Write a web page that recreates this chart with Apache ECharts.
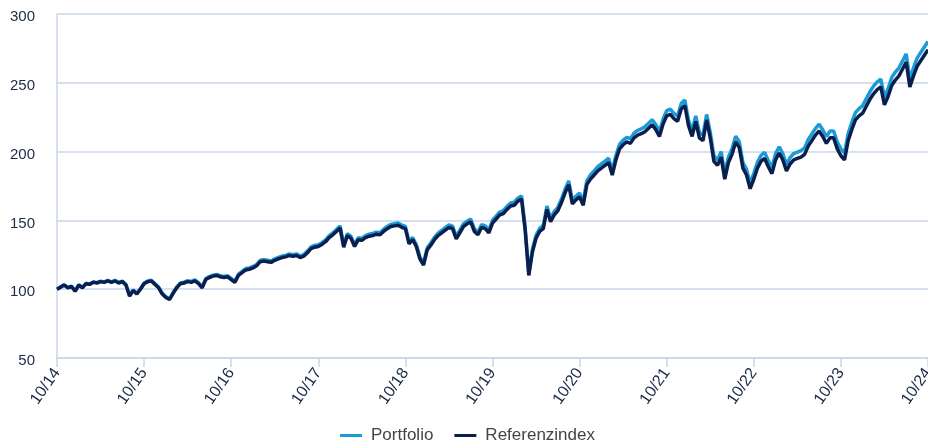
<!DOCTYPE html>
<html>
<head>
<meta charset="utf-8">
<script src="https://cdn.jsdelivr.net/npm/echarts@6/dist/echarts.min.js"></script>
<style>
  html, body { margin: 0; padding: 0; background: #fff; }
  #chart { width: 928px; height: 440px; }
</style>
</head>
<body>
<div id="chart"></div>
<script>
// values, one point every half month from 10/2014 to 10/2024
const portfolio = [
  100, 101.6, 103.2, 101.2, 102.2, 98.7, 103.3, 101.3, 104.3, 103.8, 105.3, 104.8, 105.8, 105.3, 106.4, 105.4, 106.4, 104.9, 105.9, 103.4, 95.4, 99.4, 97, 100.5,
  104.5, 106, 106.5, 104, 101.5, 97, 94.5, 93, 97.6, 101.6, 104.6, 105.1, 106.2, 105.7, 106.7, 104.7, 101.7, 107.7, 109.2, 110.2, 110.8, 109.8, 109.3, 109.8,
  107.8, 105.8, 110.9, 112.9, 115, 115.5, 116.5, 118, 121, 121.5, 121, 120.5, 122.1, 123.1, 124.1, 124.6, 125.6, 125.1, 125.7, 124.2, 125.2, 127.7, 130.8, 131.8,
  132.3, 133.8, 135.9, 138.9, 140.9, 143.4, 146, 132, 140.4, 138.4, 132.4, 137.4, 137, 139, 140, 140.5, 141.5, 141, 143.6, 145.6, 147.1, 147.6, 148.1, 146.6,
  145.6, 134.5, 137.6, 132.5, 123.5, 119, 130.1, 133.6, 137.7, 140.7, 142.8, 144.8, 146.8, 145.8, 138.3, 142.9, 147.4, 149.4, 151, 143.9, 141.4, 147, 146, 143,
  150.1, 153.1, 156.1, 157.2, 160.2, 162.7, 163.2, 166.3, 167.8, 145, 111.5, 129, 139.2, 144.2, 146.3, 160.4, 151.4, 156.4, 159.5, 165.5, 172.6, 178.7, 164.6, 167.7,
  169.8, 163.8, 178.9, 183, 186, 189.1, 191.1, 193.1, 195.2, 186.1, 197.2, 205.3, 208.3, 210.4, 209.4, 213.4, 215.5, 216.5, 218, 220.6, 223.1, 219.6, 214.5, 223.6,
  229.7, 230.8, 227.8, 225.8, 234.9, 237.5, 223, 215, 226, 214, 212, 227, 214, 197, 194, 200, 184, 196, 202.1, 211.2, 207.2, 192.1, 187.1, 177.1,
  184.2, 192.3, 197.3, 199.4, 193.4, 188.4, 198.5, 203.5, 198.5, 190.5, 195.6, 198.6, 199.6, 200.7, 202.7, 208.8, 212.9, 216.9, 219.9, 215.9, 210.9, 215, 215, 206.9,
  202, 199, 213.1, 221.2, 228.3, 231.3, 233.4, 238.5, 243.5, 247.6, 250.7, 252.7, 239.6, 245.7, 253.8, 257.8, 260.9, 266, 271, 252.6, 260.8, 267.9, 272, 276, 280
]

const referenzindex = [
  100, 101.5, 103, 101, 102, 98.5, 103, 101, 104, 103.5, 105, 104.5, 105.5, 105, 106, 105, 106, 104.5, 105.5, 103, 95, 99, 96.5, 100,
  104, 105.5, 106, 103.5, 101, 96.5, 94, 92.5, 97, 101, 104, 104.5, 105.5, 105, 106, 104, 101, 107, 108.5, 109.5, 110, 109, 108.5, 109,
  107, 105, 110, 112, 114, 114.5, 115.5, 117, 120, 120.5, 120, 119.5, 121, 122, 123, 123.5, 124.5, 124, 124.5, 123, 124, 126.5, 129.5, 130.5,
  131, 132.5, 134.5, 137.5, 139.5, 142, 144.5, 130.5, 139, 137, 131, 136, 135.5, 137.5, 138.5, 139, 140, 139.5, 142, 144, 145.5, 146, 146.5, 145,
  144, 133, 136, 131, 122, 117.5, 128.5, 132, 136, 139, 141, 143, 145, 144, 136.5, 141, 145.5, 147.5, 149, 142, 139.5, 145, 144, 141,
  148, 151, 154, 155, 158, 160.5, 161, 164, 165.5, 143, 110, 127, 137, 142, 144, 158, 149, 154, 157, 163, 170, 176, 162, 165,
  167, 161, 176, 180, 183, 186, 188, 190, 192, 183, 194, 202, 205, 207, 206, 210, 212, 213, 214.5, 217, 219.5, 216, 211, 220,
  226, 227, 224, 222, 231, 233.5, 219, 211, 222, 210, 208, 223, 210, 193, 190, 196, 180, 192, 198, 207, 203, 188, 183, 173,
  180, 188, 193, 195, 189, 184, 194, 199, 194, 186, 191, 194, 195, 196, 198, 204, 208, 212, 215, 211, 206, 210, 210, 202,
  197, 194, 208, 216, 223, 226, 228, 233, 238, 242, 245, 247, 234, 240, 248, 252, 255, 260, 265, 247, 255, 262, 266, 270, 274
]

// x position in months since 10/2014
const months = referenzindex.map((_, i) => i / 2)

const gridColor = '#c9d6e8'
const labelColor = '#1b2a4a'

function toPairs(values) {
  return values.map((v, i) => [months[i], v])
}

const chart = echarts.init(document.getElementById('chart'))

chart.setOption({
  animation: false,
  textStyle: { fontFamily: 'Liberation Sans, Arial, sans-serif' },
  grid: {
    left: 57,
    right: 0,
    top: 14,
    bottom: 82,
    containLabel: false,
    outerBoundsMode: 'none'
  },
  legend: {
    top: 422,
    left: 335,
    icon: 'rect',
    itemWidth: 22,
    itemHeight: 3,
    itemGap: 21,
    textStyle: { fontSize: 17, color: '#444', padding: [0, 0, 0, 4] },
    data: ['Portfolio', 'Referenzindex']
  },
  xAxis: {
    type: 'value',
    min: 0,
    max: 120,
    interval: 12,
    axisLine: { lineStyle: { color: gridColor, width: 1.5 } },
    axisTick: { show: true, length: 9, lineStyle: { color: gridColor, width: 1.5 } },
    splitLine: { show: false },
    axisLabel: {
      rotate: 55,
      fontSize: 16,
      color: labelColor,
      margin: 12,
      formatter: v => '10/' + (14 + v / 12)
    }
  },
  yAxis: {
    type: 'value',
    min: 50,
    max: 300,
    interval: 50,
    axisLine: { show: true, lineStyle: { color: gridColor, width: 1.5 } },
    axisTick: { show: false },
    splitLine: { lineStyle: { color: gridColor, width: 1.5 } },
    axisLabel: {
      margin: 22,
      formatter: '{v|{value}}',
      rich: { v: { fontSize: 15, color: labelColor, padding: [6, 0, 0, 0] } }
    }
  },
  series: [
    {
      name: 'Portfolio',
      type: 'line',
      data: toPairs(portfolio),
      showSymbol: false,
      lineStyle: { width: 3.5, color: '#1a9bd8' },
      itemStyle: { color: '#1a9bd8' }
    },
    {
      name: 'Referenzindex',
      type: 'line',
      data: toPairs(referenzindex),
      showSymbol: false,
      lineStyle: { width: 3.5, color: '#0b1f4e' },
      itemStyle: { color: '#0b1f4e' }
    }
  ]
})
</script>
</body>
</html>
